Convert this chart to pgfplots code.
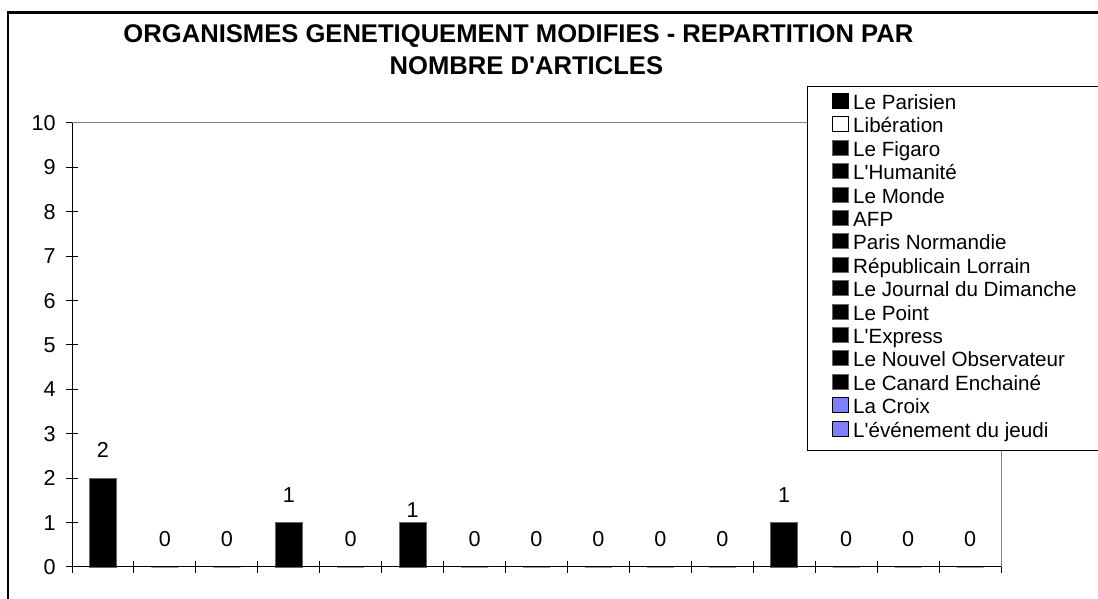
\documentclass[border=0pt]{standalone}
\usepackage{fontspec}
\setmainfont{Liberation Sans}
\usepackage{pgfplots}
\pgfplotsset{compat=1.18}
\usepackage{pgfplotstable}

\definecolor{legblue}{RGB}{128,128,255}

% x = category centre, y = number of articles, dy = label shift (pt)
\pgfplotstableread{
x    y  dy
0.5  2  0
1.5  0  0
2.5  0  0
3.5  1  0
4.5  0  0
5.5  1  -7.5
6.5  0  0
7.5  0  0
8.5  0  0
9.5  0  0
10.5 0  0
11.5 1  0
12.5 0  0
13.5 0  0
14.5 0  0
}\articles

\newcommand{\lab}{\fontsize{10.3}{12}\selectfont}
\newcommand{\tck}{\fontsize{10.8}{12}\selectfont}

\begin{document}
\begin{tikzpicture}
\useasboundingbox (0pt,0pt) rectangle (549pt,299.5pt);
\draw[line width=1.2pt] (4pt,-20pt) -- (4pt,293.3pt) -- (580pt,293.3pt);
\node[anchor=base,font=\bfseries\fontsize{12.8}{14}\selectfont] at (259.2pt,278.4pt)
  {ORGANISMES GENETIQUEMENT MODIFIES - REPARTITION PAR};
\node[anchor=base,font=\bfseries\fontsize{12.8}{14}\selectfont] at (263.2pt,262.4pt)
  {NOMBRE D\textquotesingle ARTICLES};
\begin{axis}[
  at={(36pt,16pt)}, anchor=south west,
  scale only axis,
  width=464.5pt, height=222pt,
  xmin=0, xmax=15, ymin=0, ymax=10,
  xtick={0,...,15}, xticklabels={},
  ytick={0,...,10},
  xtick pos=bottom, ytick pos=left,
  tick align=center, major tick length=6pt,
  tick style={black, line width=0.5pt},
  axis line style={draw=none},
  clip=false,
  /pgf/number format/assume math mode=true,
  ticklabel style={font=\tck},
  yticklabel style={xshift=-1.7pt},
  legend image code/.code={\draw[#1] (0pt,-1.5pt) rectangle (8pt,6pt);},
  legend style={
    at={(rel axis cs:0.8181,1.0685)}, anchor=north west,
    draw=none, fill=none, inner sep=0pt, row sep=0pt, column sep=2pt,
    font=\lab,
    nodes={inner sep=0pt, text height=7.55pt, text depth=3.45pt},
  },
  legend cell align=left,
]
\addplot[ybar, bar width=13.5pt, fill=black, draw=black!60, line width=0.4pt,
  forget plot,
  nodes near coords, point meta=y,
  visualization depends on={\thisrow{dy} \as \dy},
  every node near coord/.append style={font=\tck, anchor=south, yshift={(6.7+\dy)*1pt}}]
  table[x=x, y=y] {\articles};
% plot area border: black axes, grey top and right, partly under the legend
\draw[black, line width=0.5pt] (rel axis cs:0,1) -- (rel axis cs:0,0) -- (rel axis cs:1,0);
\draw[black!50, line width=0.5pt] (rel axis cs:0,1) -- (rel axis cs:0.7912,1);
\draw[black!50, line width=0.5pt] (rel axis cs:1,0.2613) -- (rel axis cs:1,0);
% legend frame, its right side lies beyond the picture
\draw[black, line width=0.5pt] (rel axis cs:0.7912,1.0811) -- (rel axis cs:1.3,1.0811);
\draw[black, line width=0.5pt] (rel axis cs:0.7912,1.0811) -- (rel axis cs:0.7912,0.2613);
\draw[black, line width=0.5pt] (rel axis cs:0.7912,0.2613) -- (rel axis cs:1.3,0.2613);
\addlegendimage{fill=black, draw=black}
\addlegendentry{Le Parisien}
\addlegendimage{fill=white, draw=black}
\addlegendentry{Libération}
\addlegendimage{fill=black, draw=black!60}
\addlegendentry{Le Figaro}
\addlegendimage{fill=black, draw=black!60}
\addlegendentry{L\textquotesingle Humanité}
\addlegendimage{fill=black, draw=black!60}
\addlegendentry{Le Monde}
\addlegendimage{fill=black, draw=black!60}
\addlegendentry{AFP}
\addlegendimage{fill=black, draw=black!60}
\addlegendentry{Paris Normandie}
\addlegendimage{fill=black, draw=black!60}
\addlegendentry{Républicain Lorrain}
\addlegendimage{fill=black, draw=black!60}
\addlegendentry{Le Journal du Dimanche}
\addlegendimage{fill=black, draw=black!60}
\addlegendentry{Le Point}
\addlegendimage{fill=black, draw=black!60}
\addlegendentry{L\textquotesingle Express}
\addlegendimage{fill=black, draw=black!60}
\addlegendentry{Le Nouvel Observateur}
\addlegendimage{fill=black, draw=black!60}
\addlegendentry{Le Canard Enchainé}
\addlegendimage{fill=legblue, draw=black}
\addlegendentry{La Croix}
\addlegendimage{fill=legblue, draw=black}
\addlegendentry{L\textquotesingle événement du jeudi}
\end{axis}
\end{tikzpicture}
\end{document}
